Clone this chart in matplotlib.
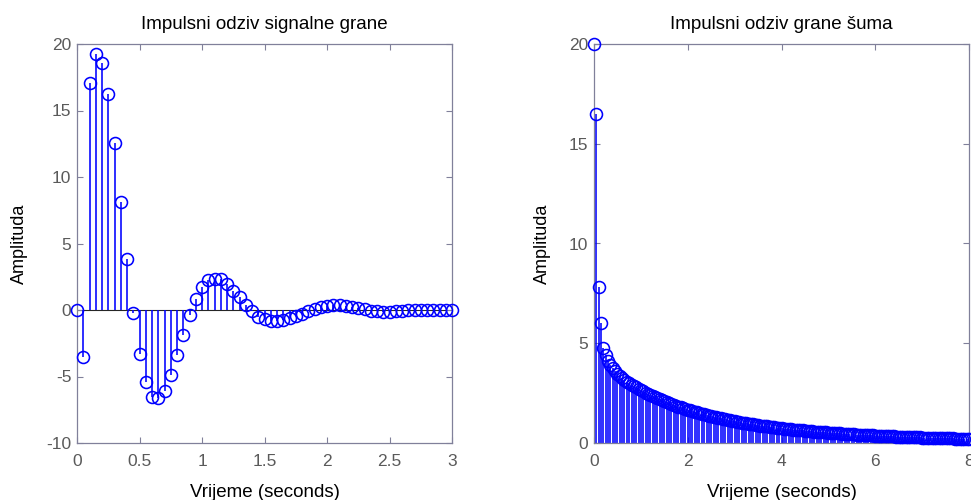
import numpy as np
import matplotlib
matplotlib.use("Agg")
import matplotlib.pyplot as plt

# ---------------- data ----------------
dt = 0.05
signal_vals = [
    0.0, -3.55, 17.1, 19.25, 18.6, 16.25, 12.55, 8.15, 3.8, -0.25,
    -3.3, -5.4, -6.55, -6.65, -6.1, -4.85, -3.4, -1.85, -0.4, 0.8,
    1.7, 2.25, 2.35, 2.3, 1.95, 1.45, 0.95, 0.4, -0.1, -0.5,
    -0.7, -0.8, -0.8, -0.75, -0.6, -0.45, -0.3, -0.1, 0.05, 0.2,
    0.3, 0.35, 0.35, 0.3, 0.25, 0.15, 0.05, -0.05, -0.1, -0.12,
    -0.12, -0.1, -0.07, -0.03, 0.0, 0.02, 0.03, 0.03, 0.02, 0.01, 0.0,
]
noise_vals = [
    20.0, 16.5, 7.8, 6.0, 4.75, 4.4, 4.1, 3.9, 3.75, 3.6,
    3.48, 3.36, 3.25, 3.16, 3.08, 3.0, 2.93, 2.86, 2.79, 2.72,
    2.66, 2.59, 2.53, 2.47, 2.41, 2.36, 2.3, 2.25, 2.19, 2.14,
    2.09, 2.05, 2.0, 1.95, 1.91, 1.87, 1.82, 1.78, 1.74, 1.7,
    1.67, 1.63, 1.59, 1.56, 1.53, 1.49, 1.46, 1.43, 1.4, 1.37,
    1.34, 1.31, 1.28, 1.26, 1.23, 1.21, 1.18, 1.16, 1.13, 1.11,
    1.09, 1.07, 1.04, 1.02, 1.0, 0.98, 0.96, 0.95, 0.93, 0.91,
    0.89, 0.87, 0.86, 0.84, 0.83, 0.81, 0.8, 0.78, 0.77, 0.75,
    0.74, 0.72, 0.71, 0.7, 0.69, 0.67, 0.66, 0.65, 0.64, 0.63,
    0.62, 0.6, 0.59, 0.58, 0.57, 0.56, 0.55, 0.54, 0.54, 0.53,
    0.52, 0.51, 0.5, 0.49, 0.48, 0.48, 0.47, 0.46, 0.45, 0.45,
    0.44, 0.43, 0.42, 0.42, 0.41, 0.4, 0.4, 0.39, 0.39, 0.38,
    0.37, 0.37, 0.36, 0.36, 0.35, 0.35, 0.34, 0.33, 0.33, 0.32,
    0.32, 0.31, 0.31, 0.31, 0.3, 0.3, 0.29, 0.29, 0.28, 0.28,
    0.27, 0.27, 0.27, 0.26, 0.26, 0.26, 0.25, 0.25, 0.24, 0.24,
    0.24, 0.23, 0.23, 0.23, 0.22, 0.22, 0.22, 0.21, 0.21, 0.21, 0.21,
]
titles = ["Impulsni odziv signalne grane", "Impulsni odziv grane šuma"]
xlabel = "Vrijeme (seconds)"
ylabel = "Amplituda"
left_xticks = [0, 0.5, 1, 1.5, 2, 2.5, 3]
left_xticklabels = ["0", "0.5", "1", "1.5", "2", "2.5", "3"]
left_yticks = [-10, -5, 0, 5, 10, 15, 20]
right_xticks = [0, 2, 4, 6, 8]
right_yticks = [0, 5, 10, 15, 20]

t1 = np.arange(len(signal_vals)) * dt
t2 = np.arange(len(noise_vals)) * dt

# ---------------- style ----------------
plt.rcParams['font.family'] = ['Liberation Sans', 'DejaVu Sans']
SPINE = '#80809a'
TICKC = '#5a5a5a'
BLUE = '#0000ff'

fig = plt.figure(figsize=(9.71, 5.0), dpi=100)
ax1 = fig.add_axes([77/971, 57/500, 375/971, 399/500])
ax2 = fig.add_axes([594/971, 57/500, 375/971, 399/500])


def draw(ax, t, v, xlim, ylim, xticks, xticklabels, yticks, title, baseline):
    if baseline:
        ax.axhline(0, color='#262626', lw=0.8, zorder=1)
    ax.vlines(t, 0, v, colors=BLUE, lw=1.15, zorder=2)
    ax.plot(t, v, 'o', ms=8.6, mfc='none', mec=BLUE, mew=1.15,
            clip_on=False, zorder=3)
    ax.set_xlim(*xlim)
    ax.set_ylim(*ylim)
    ax.set_xticks(xticks)
    ax.set_xticklabels(xticklabels)
    ax.set_yticks(yticks)
    ax.set_yticklabels([str(y) for y in yticks])
    for s in ax.spines.values():
        s.set_color(SPINE)
        s.set_linewidth(0.9)
    ax.tick_params(direction='in', length=4, width=0.8, color=SPINE,
                   labelcolor=TICKC, labelsize=12.5, top=True, right=True)
    ax.tick_params(axis='x', pad=8)
    ax.tick_params(axis='y', pad=4)
    ax.set_title(title, fontsize=13.5, color='black', pad=11)
    ax.set_xlabel(xlabel, fontsize=13.5, color='black', labelpad=11)
    ax.set_ylabel(ylabel, fontsize=13, color='black', labelpad=13)


draw(ax1, t1, signal_vals, (0, 3), (-10, 20), left_xticks, left_xticklabels,
     left_yticks, titles[0], True)
draw(ax2, t2, noise_vals, (0, 8), (0, 20), right_xticks,
     [str(x) for x in right_xticks], right_yticks, titles[1], False)

fig.savefig("out.png", dpi=100)
